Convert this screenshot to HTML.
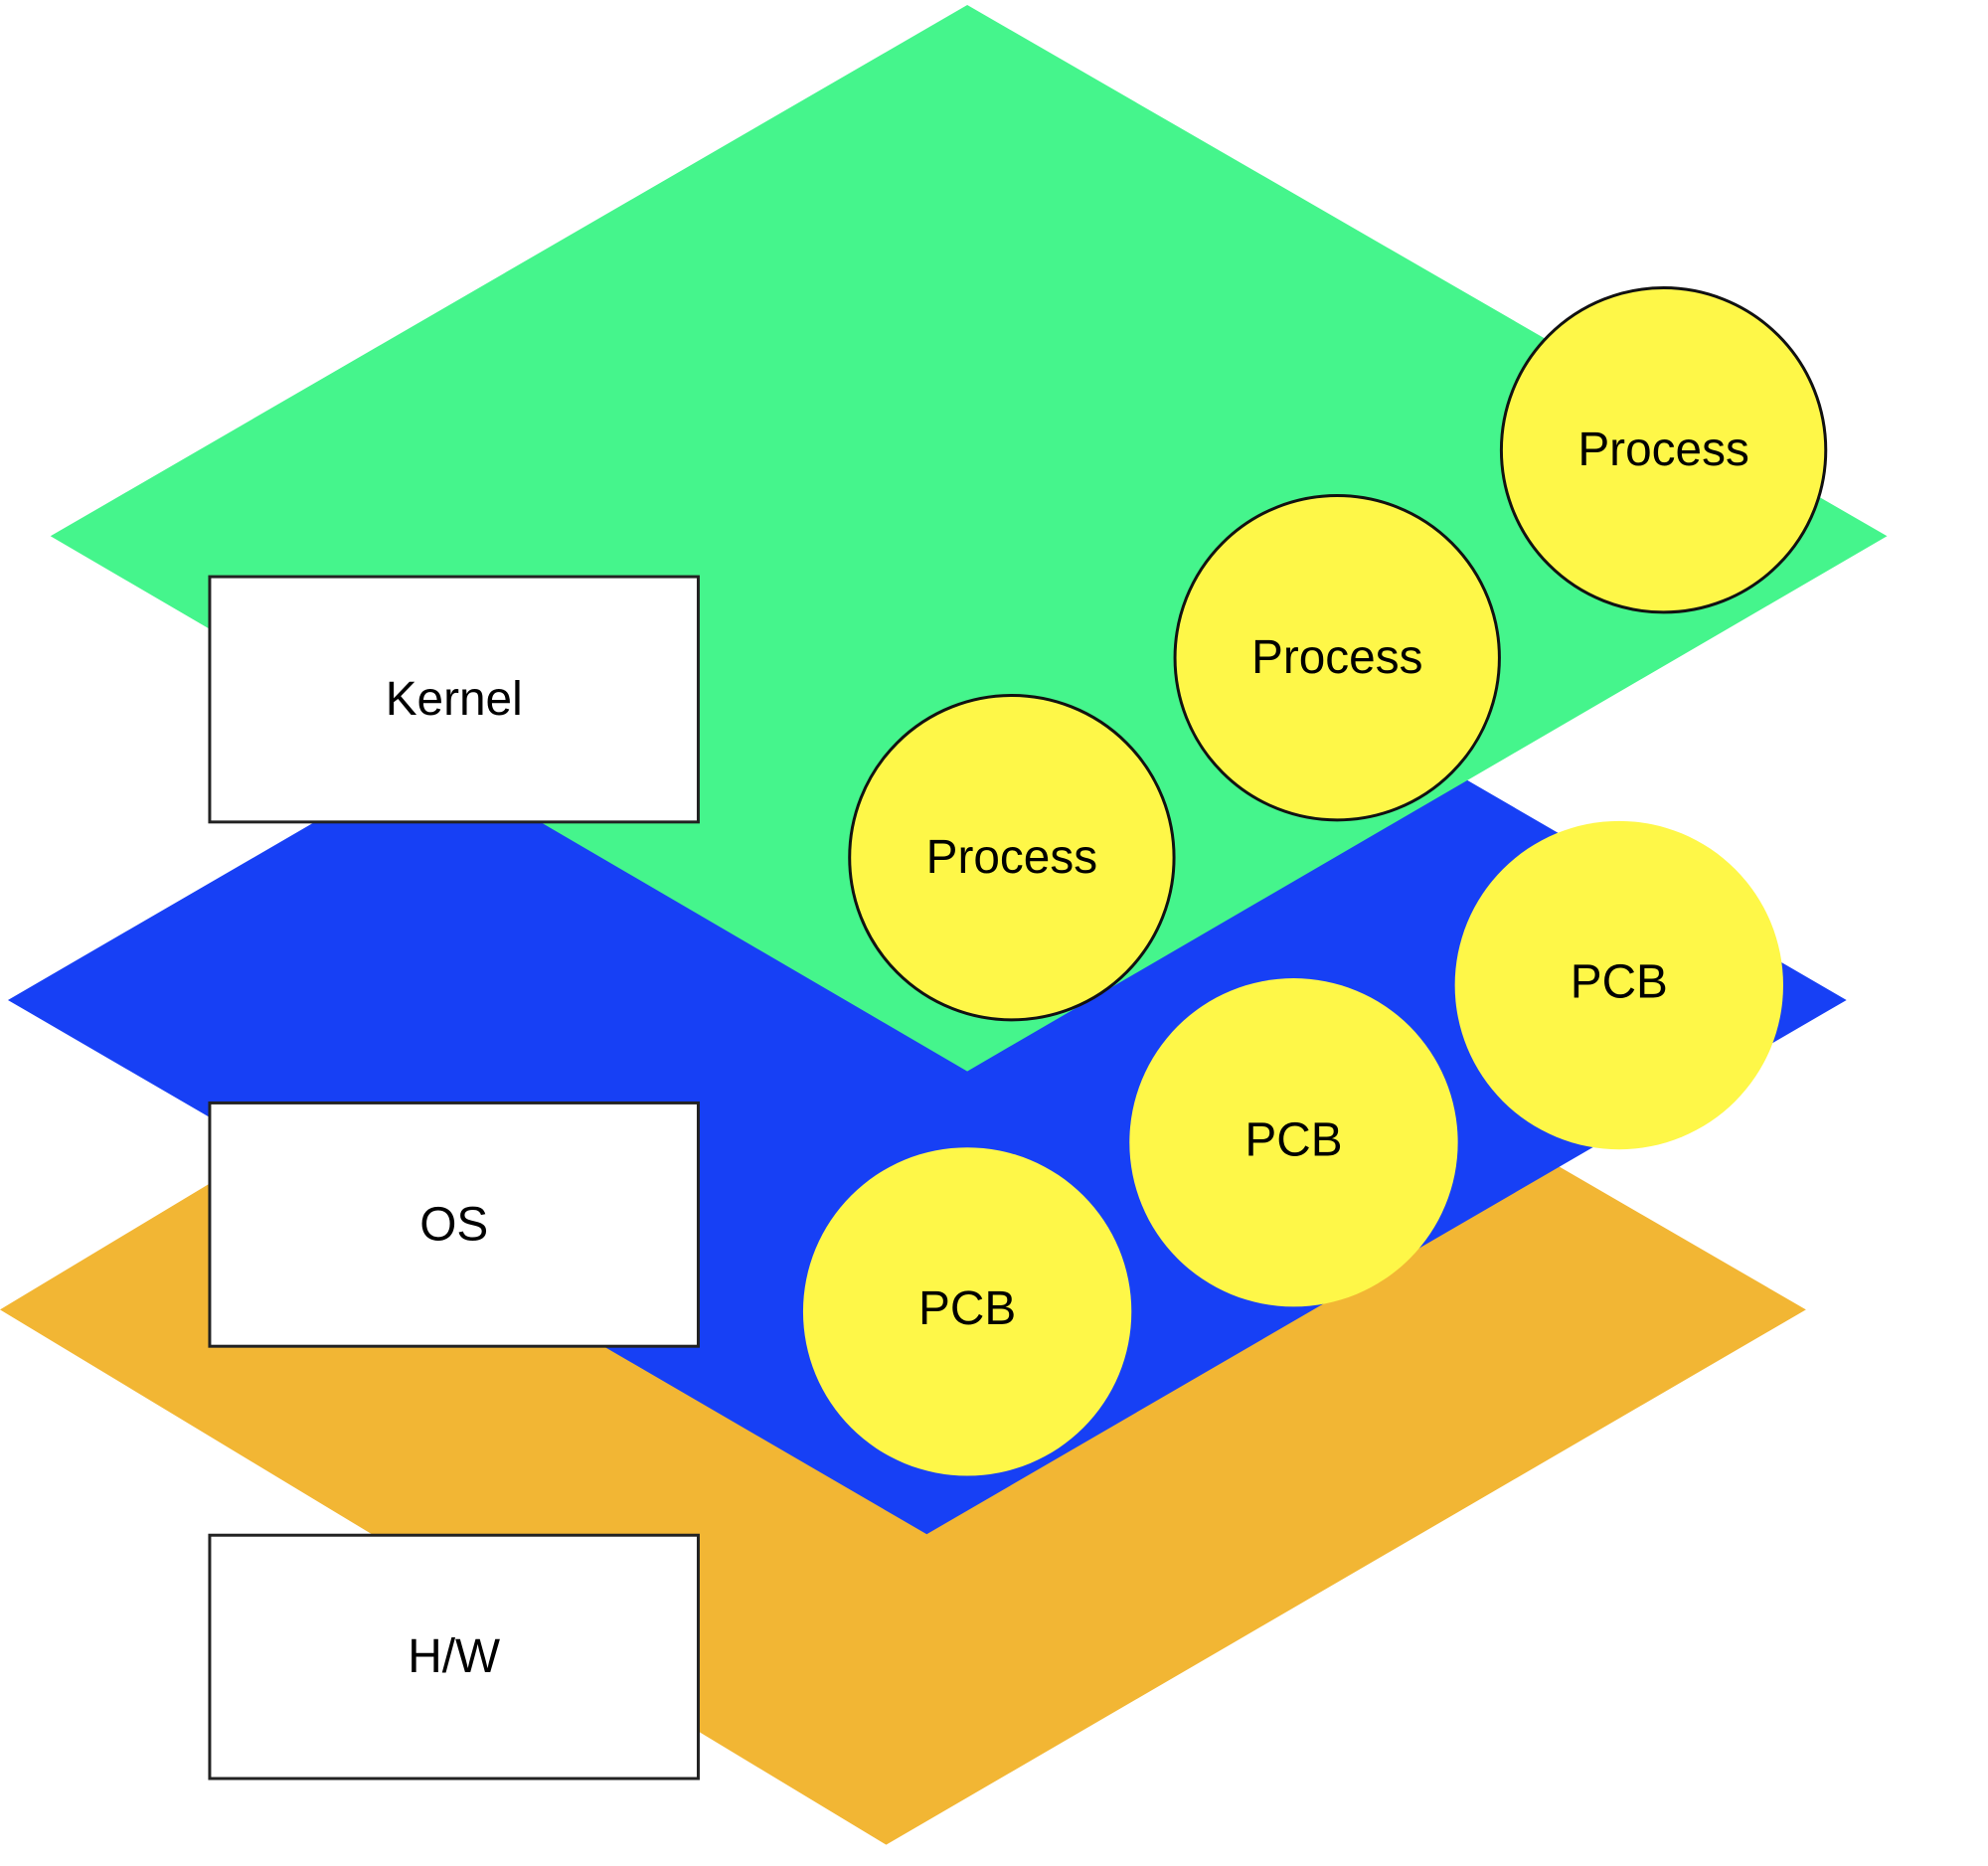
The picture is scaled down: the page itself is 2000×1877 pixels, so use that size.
<!DOCTYPE html>
<html><head><meta charset="utf-8"><style>
html,body{margin:0;padding:0;background:#fff;}
svg{display:block;}
text{font-family:"Liberation Sans",Arial,sans-serif;font-size:48px;text-anchor:middle;dominant-baseline:central;fill:#000;}
</style></head><body>
<svg width="2000" height="1877" viewBox="0 0 2000 1877" xmlns="http://www.w3.org/2000/svg">
<g transform="scale(0.995)">
<polygon points="896,785 1826,1324 896,1865 0,1324" fill="#F2B634"/>
<polygon points="937,472 1867,1011 937,1551 8,1011" fill="#1740F5"/>
<polygon points="978,5 1908,542 978,1083 51,542" fill="#45F58C"/>
<rect x="212" y="583" width="494" height="248" fill="#fff" stroke="#222" stroke-width="3"/>
<text x="459" y="707">Kernel</text>
<rect x="212" y="1115" width="494" height="246" fill="#fff" stroke="#222" stroke-width="3"/>
<text x="459" y="1238">OS</text>
<rect x="212" y="1552" width="494" height="246" fill="#fff" stroke="#222" stroke-width="3"/>
<text x="459" y="1675">H/W</text>
<circle cx="1682" cy="455" r="164" fill="#FEF748" stroke="#111" stroke-width="3"/>
<text x="1682" y="455">Process</text>
<circle cx="1352" cy="665" r="164" fill="#FEF748" stroke="#111" stroke-width="3"/>
<text x="1352" y="665">Process</text>
<circle cx="1023" cy="867" r="164" fill="#FEF748" stroke="#111" stroke-width="3"/>
<text x="1023" y="867">Process</text>
<circle cx="1637" cy="996" r="166" fill="#FEF748"/>
<text x="1637" y="993">PCB</text>
<circle cx="1308" cy="1155" r="166" fill="#FEF748"/>
<text x="1308" y="1153">PCB</text>
<circle cx="978" cy="1326" r="166" fill="#FEF748"/>
<text x="978" y="1323">PCB</text>
</g>
</svg>
</body></html>
